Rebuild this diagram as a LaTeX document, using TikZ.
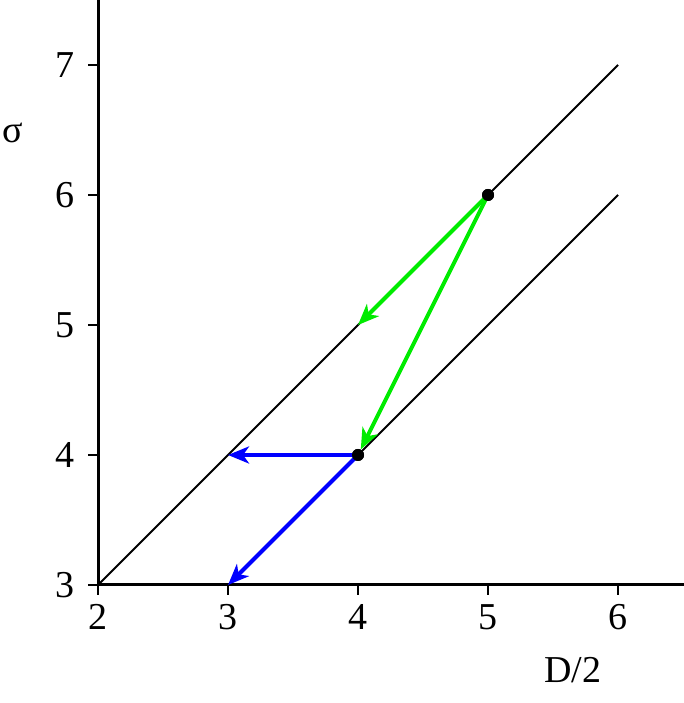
\documentclass[tikz,border=0pt]{standalone}
\usepackage{fontspec}
\setmainfont{Liberation Serif}
\usetikzlibrary{arrows.meta}
\definecolor{arrgreen}{RGB}{0,235,0}
\definecolor{arrblue}{RGB}{0,0,255}
\begin{document}
\begin{tikzpicture}[x=130pt,y=130pt,
  axisline/.style={line width=3pt},
  tickline/.style={line width=2.6pt},
  diagline/.style={line width=2.1pt},
  flow/.style={line width=4pt,-{Stealth[length=21pt,width=17pt,inset=6pt]}},
  lbl/.style={font=\fontsize{38}{40}\selectfont, inner sep=0pt},
  dotnode/.style={circle,fill=black,inner sep=0pt,minimum size=12pt}]
\useasboundingbox (1.24615,2.09231) rectangle (6.50769,7.5);
% axes
\coordinate (ytop) at (2,7.5);
\coordinate (orig) at (2,3);
\coordinate (xend) at (6.50769,3);
\draw[axisline] (ytop) -- (orig) -- (xend);
% ticks and labels
\foreach \v in {3,4,5,6,7}{
  \draw[tickline] (2,\v) -- ++(-0.0769,0);
  \node[lbl] (yl\v) at (1.746,\v) {\v};
}
\foreach \v in {2,3,4,5,6}{
  \draw[tickline] (\v,3) -- ++(0,-0.0769);
  \node[lbl] (xl\v) at (\v,2.754) {\v};
}
\node[lbl] (ylab) at (1.345,6.477) {σ};
\node[lbl] (xlab) at (5.654,2.346) {D/2};
% diagonal lines
\coordinate (a0) at (2,3);
\coordinate (a1) at (6,7);
\coordinate (b1) at (6,6);
\coordinate (t45) at (4,5);
\coordinate (t34) at (3,4);
\coordinate (t33) at (3,3);
\node[dotnode] (p56) at (5,6) {};
\node[dotnode] (p44) at (4,4) {};
\draw[diagline] (a0) -- (a1);
\draw[diagline] (p44.center) -- (b1);
% arrows
\draw[flow,arrgreen] (p56.center) -- (t45);
\draw[flow,arrgreen] (p56.center) -- (p44);
\draw[flow,arrblue] (p44.center) -- (t34);
\draw[flow,arrblue] (p44.center) -- (t33);
\node[dotnode] at (p56) {};
\node[dotnode] at (p44) {};
\end{tikzpicture}
\end{document}
